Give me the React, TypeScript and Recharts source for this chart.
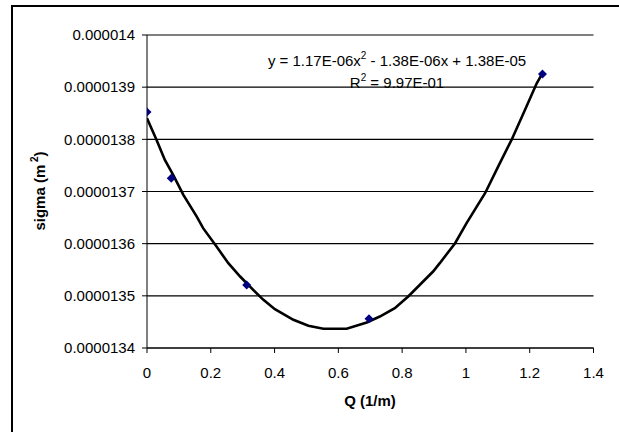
import React from 'react';
import { ComposedChart, Line, Scatter, XAxis, YAxis, CartesianGrid } from 'recharts';

const pointQ = [0, 0.076, 0.3125, 0.696, 1.24];
const pointSigma = [0.0000138524, 0.0000137255, 0.0000135210, 0.0000134560, 0.0000139253];

const trendQ = [0, 0.03, 0.056, 0.082, 0.114, 0.156, 0.176, 0.218, 0.255, 0.292, 0.333, 0.365, 0.401, 0.459, 0.506, 0.553, 0.626, 0.689, 0.73, 0.777, 0.819, 0.897, 0.918, 0.966, 1.002, 1.06, 1.101, 1.143, 1.185, 1.222, 1.237];
const trendSigma = [0.0000138404, 0.0000137989, 0.0000137605, 0.0000137318, 0.0000136935, 0.0000136519, 0.0000136297, 0.0000135944, 0.0000135626, 0.000013537, 0.0000135115, 0.0000134923, 0.0000134745, 0.000013454, 0.0000134425, 0.0000134368, 0.0000134368, 0.0000134489, 0.0000134603, 0.0000134764, 0.0000134987, 0.0000135466, 0.0000135626, 0.0000136009, 0.0000136393, 0.0000136967, 0.0000137477, 0.0000137989, 0.0000138563, 0.0000139075, 0.0000139234];

const xTicks = [0, 0.2, 0.4, 0.6, 0.8, 1, 1.2, 1.4];
const yTicks = [0.0000134, 0.0000135, 0.0000136, 0.0000137, 0.0000138, 0.0000139, 0.000014];

const points = pointQ.map((x, i) => ({ x, y: pointSigma[i] }));
const trend = trendQ.map((x, i) => ({ x, y: trendSigma[i] }));

const FONT = '"Liberation Sans", Arial, sans-serif';

const Diamond = (props: any) => {
  const { cx, cy } = props;
  const r = 4.5;
  return (
    <polygon
      points={`${cx},${cy - r} ${cx + r},${cy} ${cx},${cy + r} ${cx - r},${cy}`}
      fill="#000080"
    />
  );
};

const fmtY = (v: number) => v.toFixed(7).replace(/0+$/, '');

export default function App() {
  return (
    <div style={{ position: 'absolute', left: 0, top: 0, width: 619, height: 432, overflow: 'hidden', background: '#fff' }}>
      <div style={{ position: 'absolute', left: 11, top: 5, width: 700, height: 600, border: '2px solid #000' }} />
      <div style={{ position: 'absolute', left: 0, top: 0 }}>
        <ComposedChart
          width={619}
          height={432}
          margin={{ top: 35, right: 25.5, bottom: 24, left: 0 }}
        >
          <CartesianGrid vertical={false} stroke="#000" strokeWidth={1.2} horizontalValues={yTicks} />
          <XAxis
            type="number"
            dataKey="x"
            domain={[0, 1.4]}
            ticks={xTicks}
            allowDataOverflow
            height={60}
            stroke="#000"
            tickSize={5}
            tickMargin={14}
            tick={{ fill: '#000', fontSize: 15, fontFamily: FONT }}
            tickFormatter={(v: number) => String(v)}
          />
          <YAxis
            type="number"
            dataKey="y"
            domain={[0.0000134, 0.000014]}
            ticks={yTicks}
            allowDataOverflow
            width={147}
            stroke="#000"
            tickSize={5}
            tickMargin={7}
            tick={{ fill: '#000', fontSize: 15, fontFamily: FONT }}
            tickFormatter={fmtY}
          />
          <Line
            data={trend}
            dataKey="y"
            type="linear"
            stroke="#000"
            strokeWidth={2.6}
            dot={false}
            activeDot={false}
            isAnimationActive={false}
          />
          <Scatter
            data={points}
            dataKey="y"
            shape={Diamond}
            isAnimationActive={false}
          />
        </ComposedChart>
      </div>
      <svg width={619} height={432} style={{ position: 'absolute', left: 0, top: 0, pointerEvents: 'none' }}>
        <text x={397} y={66} textAnchor="middle" fontFamily={FONT} fontSize={15} fill="#000">
          y = 1.17E-06x
          <tspan fontSize={10} dy={-7}>2</tspan>
          <tspan dy={7}> - 1.38E-06x + 1.38E-05</tspan>
        </text>
        <text x={397} y={88} textAnchor="middle" fontFamily={FONT} fontSize={15} fill="#000">
          R
          <tspan fontSize={10} dy={-7}>2</tspan>
          <tspan dy={7}> = 9.97E-01</tspan>
        </text>
        <text x={370} y={406} textAnchor="middle" fontFamily={FONT} fontSize={15} fontWeight="bold" fill="#000">
          Q (1/m)
        </text>
        <text
          x={0}
          y={0}
          transform="translate(45,191) rotate(-90)"
          textAnchor="middle"
          fontFamily={FONT}
          fontSize={15}
          fontWeight="bold"
          fill="#000"
        >
          sigma (m
          <tspan fontSize={10} dy={-7}> 2</tspan>
          <tspan dy={7}>)</tspan>
        </text>
      </svg>
    </div>
  );
}
